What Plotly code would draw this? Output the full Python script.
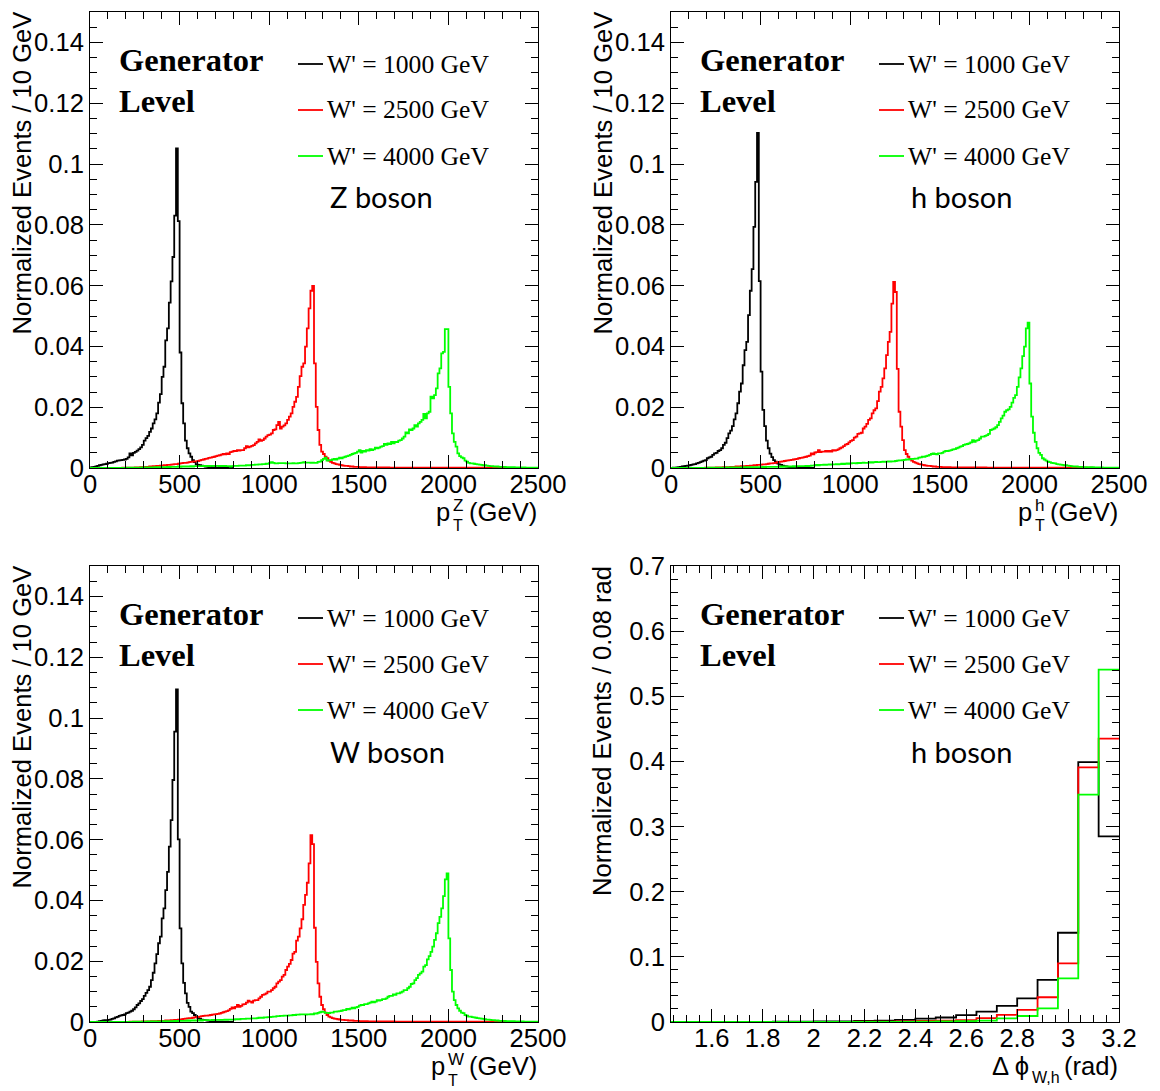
import numpy as np
import plotly.graph_objects as go

W, H = 1160, 1091


def px(x):
    return x / W


def py(y):
    return 1 - y / H


# ---------------------------------------------------------------------------
# Generator-level boson pT spectra, normalized events per 10 GeV bin,
# stored in units of 1e-4.  Each series starts at the given GeV value.
# ---------------------------------------------------------------------------
PT_BIN = 10.0
PT_UNIT = 1e-4
MASSES = ["W' = 1000 GeV", "W' = 2500 GeV", "W' = 4000 GeV"]
COLORS = ["#000000", "#ff0000", "#00ff00"]

# ---- Z boson ----
z_start = [0, 150, 0]
z_m1000 = [
    2, 3, 4, 5, 7, 9, 10, 12, 13, 14,
    16, 17, 18, 20, 22, 24, 25, 26, 27, 28,
    30, 35, 48, 42, 50, 53, 57, 62, 68, 76,
    90, 98, 106, 119, 130, 147, 160, 180, 215, 243,
    300, 333, 420, 459, 544, 614, 694, 830, 1051, 812,
    380, 213, 147, 90, 65, 48, 37, 26, 19, 12,
    10, 9, 8, 6, 5, 4, 3, 3, 2, 2,
    1, 1, 1, 1, 1, 0, 0, 0, 0, 0,
]
z_m2500 = [
    0, 0, 0, 1, 1, 1, 1, 1, 1, 1, 2, 2, 2, 3, 3,
    3, 4, 4, 5, 5, 6, 6, 7, 7, 8, 8, 9, 9, 10, 10,
    11, 12, 13, 13, 14, 15, 16, 17, 17, 18, 19, 20, 21, 22, 22,
    23, 25, 27, 28, 30, 31, 33, 34, 36, 37, 39, 41, 42, 44, 46, 45,
    48, 46, 52, 54, 56, 56, 59, 57, 59, 59,
    65, 72, 68, 70, 73, 75, 81, 86, 94, 89,
    92, 97, 103, 108, 110, 114, 125, 127, 141, 152,
    130, 136, 140, 147, 158, 169, 180, 201, 218, 234,
    267, 302, 333, 344, 399, 459, 525, 583, 599,
    344, 201, 125, 76, 54, 46, 37, 32, 24, 20,
    17, 15, 13, 12, 10, 9, 8, 7, 7, 6, 5, 5, 4, 4, 4,
    3, 3, 3, 3, 2, 2, 2, 2, 2, 2, 2, 2, 2, 2, 2, 1, 2, 1, 1, 1,
    1, 1, 1, 1, 1, 1, 1, 1, 1, 1, 1, 1, 1, 1, 1, 1, 1, 1, 1, 1,
    1, 1, 1, 1, 1, 1, 1, 1, 1, 1,
    1, 1, 1, 1, 1, 1, 1, 1, 1, 1, 1, 1, 1, 1, 1, 0, 1, 1, 1, 0,
    1, 0, 1, 0, 0, 1, 0, 0, 0, 0, 0, 0, 0, 0, 0, 0, 0, 0, 0, 0,
    0, 0, 0, 0, 0, 0, 0, 0, 0, 0,
]
z_m4000 = [
    0, 0, 0, 0, 0, 0, 0, 0, 0, 0, 0, 0, 0, 0, 0, 0, 0, 0, 0, 0,
    1, 1, 0, 1, 1, 1, 1, 1, 1, 2, 1, 2, 2, 2, 2, 2, 3, 2, 3, 3,
    3, 3, 3, 4, 3, 4, 4, 4, 4, 5, 4, 5, 5, 5, 5, 5, 6, 5, 6, 6,
    6, 6, 6, 7, 6, 7, 6, 7, 7, 6, 7, 7, 6, 7, 6, 7, 6, 6,
    5, 6, 7, 7, 7, 8, 8, 8, 8, 9, 9, 9, 10, 10, 11, 11, 12, 12, 13, 13,
    14, 14, 17, 19, 17, 15, 15, 16, 16, 16, 16, 15, 15, 15, 15, 16, 15, 15, 16, 17,
    18, 19, 18, 18, 18, 17, 18, 17,
    17, 20, 21, 26, 30, 34, 24, 26, 26, 28,
    30, 28, 31, 34, 32, 35, 37, 39, 41, 43,
    46, 48, 50, 54, 59, 51, 56, 54, 59, 57,
    62, 59, 61, 67, 65, 67, 70, 72, 79, 76,
    81, 79, 86, 81, 86, 85, 90, 92, 97, 103,
    117, 114, 127, 125, 130, 141, 136, 147, 152, 158,
    178, 163, 180, 185, 235, 229, 240, 262, 311, 328,
    377, 382, 457, 457,
    267, 180, 114, 86, 70, 48, 39, 35, 32, 24,
    21, 17, 15, 15, 14, 13, 12, 11, 10, 9,
    9, 8, 7, 6, 6, 5, 5, 5, 4, 4,
    4, 4, 3, 3, 3, 3, 3, 2, 2, 2,
    2, 2, 2, 1, 1, 1, 1, 1, 1, 1,
]

# ---- h boson ----
h_start = [0, 150, 0]
h_m1000 = [
    0, 1, 1, 2, 3, 4, 5, 6, 7, 8,
    9, 10, 12, 13, 15, 17, 19, 22, 24, 26,
    32, 35, 37, 43, 48, 50, 56, 59, 65, 76,
    83, 98, 114, 123, 138, 160, 180, 213, 251, 278,
    338, 388, 415, 503, 583, 654, 793, 941, 1102, 615,
    317, 191, 138, 90, 65, 47, 36, 26, 21, 15,
    12, 10, 8, 6, 5, 4, 3, 3, 2, 2,
    1, 1, 1, 1, 0, 0, 0, 0, 0, 0,
]
h_m2500 = [
    0, 0, 0, 0, 1, 1, 1, 1, 1, 1, 2, 2, 2, 2, 3,
    3, 3, 3, 4, 4, 4, 5, 5, 5, 6, 6, 6, 7, 7, 8,
    8, 9, 9, 10, 10, 11, 12, 12, 13, 14, 15, 15, 16, 17, 19,
    20, 21, 22, 23, 24, 25, 26, 27, 28, 29, 30, 32, 33, 34, 36, 37, 39, 41,
    48, 45, 51, 52, 59, 52, 54, 54, 56, 54,
    56, 54, 59, 57, 59, 61, 65, 68, 72, 77,
    79, 84, 89, 92, 100, 103, 112, 114, 116, 130,
    136, 145, 158, 163, 180, 190, 196, 220, 251, 267,
    295, 328, 371, 415, 448, 541, 612,
    579, 326, 185, 136, 92, 59, 46, 37, 30, 24,
    20, 18, 15, 13, 12, 10, 9, 8, 7, 7, 6, 5, 5, 4, 4,
    4, 3, 3, 3, 3, 3, 2, 2, 2, 2, 2, 2, 2, 2, 2, 2, 2, 2, 2, 2,
    2, 2, 2, 2, 1, 2, 1, 1, 1, 1, 1, 1, 1, 1, 1, 1, 1, 1, 1, 1,
    1, 1, 1, 1, 1, 1, 1, 1, 1, 1,
    1, 1, 1, 1, 1, 1, 1, 1, 1, 1, 1, 1, 1, 1, 1, 1, 1, 1, 1, 1,
    1, 1, 1, 1, 1, 1, 1, 1, 1, 1, 0, 1, 0, 0, 1, 0, 0, 0, 0, 0,
    0, 0, 0, 0, 0, 0, 0, 0, 0, 0,
]
h_m4000 = [
    0, 0, 0, 0, 0, 0, 0, 0, 0, 0, 0, 0, 0, 0, 0, 0, 0, 0, 0, 0,
    1, 1, 1, 1, 1, 1, 1, 1, 1, 1, 1, 2, 1, 2, 2, 2, 2, 2, 2, 2,
    3, 2, 3, 3, 3, 3, 3, 3, 3, 3, 3, 4, 3, 4, 4, 4, 4, 4, 4, 4,
    4, 5, 4, 5, 5, 5, 5, 5, 6, 5, 6, 6, 6, 6, 6, 7, 6, 7,
    8, 8, 9, 10, 9, 10, 10, 11, 10, 11, 12, 11, 12, 12, 13, 12, 13, 14, 13, 14,
    15, 14, 15, 16, 16, 15, 17, 16, 17, 18, 17, 17, 18, 19, 18, 19, 20, 19, 19, 20,
    21, 20, 21, 22, 21, 22, 22,
    23, 24, 25, 25, 26, 27, 28, 28, 29, 30,
    30, 31, 31, 34, 35, 37, 37, 39, 41, 43,
    46, 48, 46, 45, 48, 48, 50, 54, 56, 56,
    57, 59, 61, 62, 65, 67, 70, 72, 76, 78,
    79, 81, 84, 92, 86, 90, 92, 97, 103, 103,
    106, 108, 112, 125, 127, 130, 134, 141, 152, 163,
    172, 185, 190, 193, 201, 215, 231, 240, 267, 298,
    328, 368, 399, 459, 478,
    278, 169, 116, 86, 65, 50, 43, 32, 28, 24,
    21, 19, 17, 16, 15, 13, 12, 11, 10, 9,
    9, 8, 7, 6, 5, 5, 5, 4, 4, 4,
    3, 3, 3, 3, 3, 3, 2, 2, 2, 2,
    2, 1, 1, 1, 1, 1, 1, 1, 1, 1,
]

# ---- W boson ----
w_start = [0, 150, 0]
w_m1000 = [
    0, 0, 0, 0, 1, 3, 4, 5, 6, 6,
    7, 8, 10, 12, 15, 17, 20, 22, 23, 25,
    29, 31, 34, 37, 42, 48, 56, 61, 69, 75,
    86, 96, 105, 116, 138, 162, 193, 223, 259, 281,
    341, 374, 434, 494, 577, 664, 796, 955, 1094, 601,
    308, 193, 129, 94, 63, 50, 34, 29, 23, 17,
    13, 10, 8, 7, 6, 5, 4, 3, 2, 2,
    1, 1, 1, 1, 0, 0, 0, 0, 0, 0,
]
w_m2500 = [
    0, 0, 0, 0, 0, 0, 0, 1, 1, 1, 1, 1, 1, 1, 2,
    2, 2, 2, 2, 3, 3, 3, 3, 4, 4, 4, 4, 5, 5, 5,
    6, 6, 7, 7, 8, 8, 9, 10, 11, 12, 13, 13, 14, 15, 16,
    17, 18, 19, 20, 21, 21, 22, 23, 24, 25, 26, 27, 28, 30, 32, 34, 36, 38,
    43, 48, 45, 50, 56, 50, 53, 58, 59, 64,
    70, 67, 64, 70, 72, 72, 78, 83, 89, 91,
    94, 100, 100, 105, 111, 116, 127, 133, 138, 149,
    155, 171, 182, 191, 204, 225, 231, 268, 281, 308,
    338, 385, 418, 458, 522, 615, 585,
    310, 198, 127, 83, 56, 42, 31, 23, 18, 15,
    13, 11, 10, 9, 8, 7, 7, 6, 6, 5, 5, 5, 4, 4, 4,
    3, 3, 3, 3, 3, 2, 2, 2, 2, 2, 2, 2, 2, 2, 2, 2, 2, 2, 2, 2,
    1, 1, 1, 1, 1, 1, 1, 1, 1, 1, 1, 1, 1, 1, 1, 1, 1, 1, 1, 1,
    1, 1, 1, 1, 1, 1, 1, 1, 1, 1,
    1, 1, 1, 1, 1, 1, 1, 1, 1, 1, 1, 1, 1, 1, 1, 1, 1, 1, 1, 1,
    1, 1, 1, 1, 1, 1, 1, 1, 1, 1, 0, 0, 0, 0, 0, 0, 0, 0, 0, 0,
    0, 0, 0, 0, 0, 0, 0, 0, 0, 0,
]
w_m4000 = [
    0, 0, 0, 0, 0, 0, 0, 0, 0, 0, 0, 0, 0, 0, 0, 0, 0, 0, 0, 0,
    0, 0, 0, 0, 1, 1, 1, 1, 1, 1, 1, 1, 2, 1, 2, 2, 2, 2, 2, 2,
    3, 2, 3, 3, 3, 3, 3, 4, 3, 4, 4, 4, 4, 4, 5, 4, 5, 5, 5, 5,
    5, 6, 5, 6, 6, 6, 6, 6, 7, 6, 7, 7, 7, 7, 7, 8, 7, 8,
    8, 8, 8, 9, 9, 9, 10, 10, 10, 11, 11, 11, 12, 12, 12, 13, 14, 14, 14, 15,
    15, 16, 16, 17, 18, 18, 19, 19, 20, 20, 21, 21, 21, 22, 22, 23, 23, 24, 24, 25,
    25, 25, 24, 25, 25, 26, 25, 28, 28,
    30, 32, 34, 33, 30, 30, 29, 31, 31, 34,
    34, 35, 36, 37, 39, 39, 43, 42, 44, 47,
    45, 48, 50, 54, 56, 56, 59, 59, 61, 64,
    67, 65, 67, 72, 70, 72, 75, 75, 78, 83,
    86, 86, 91, 89, 94, 94, 97, 100, 105, 105,
    111, 116, 125, 127, 138, 144, 155, 160, 166, 182,
    187, 206, 217, 231, 248, 270, 292, 325, 346, 374,
    414, 469, 489,
    275, 171, 100, 72, 56, 45, 37, 31, 29, 23,
    21, 18, 18, 16, 15, 14, 13, 12, 11, 10,
    9, 8, 8, 7, 6, 6, 5, 5, 4, 4,
    4, 4, 3, 3, 3, 3, 3, 2, 2, 2,
    2, 2, 1, 1, 1, 1, 1, 1, 1, 1,
]

# ---------------------------------------------------------------------------
# Delta phi(W, h), normalized events per 0.08 rad, first bin at 1.44 rad
# ---------------------------------------------------------------------------
DPHI_START = 1.44
DPHI_BIN = 0.08
dphi_m1000 = [0.0001, 0.0001, 0.0001, 0.0002, 0.0003, 0.0004, 0.0005, 0.0008,
              0.0010, 0.0015, 0.0020, 0.0032, 0.0053, 0.0069, 0.0106, 0.0160,
              0.0246, 0.0364, 0.0646, 0.1370, 0.3990, 0.2850]
dphi_m2500 = [0.0, 0.0, 0.0001, 0.0001, 0.0001, 0.0001, 0.0002, 0.0002,
              0.0003, 0.0005, 0.0007, 0.0010, 0.0015, 0.0020, 0.0030, 0.0060,
              0.0108, 0.0185, 0.0380, 0.0900, 0.3910, 0.4350]
dphi_m4000 = [0.0, 0.0, 0.0, 0.0, 0.0, 0.0, 0.0001, 0.0001,
              0.0001, 0.0001, 0.0002, 0.0003, 0.0005, 0.0008, 0.0012, 0.0020,
              0.0056, 0.0092, 0.0210, 0.0670, 0.3490, 0.5410]

# ---------------------------------------------------------------------------
PT_TICKS = dict(range=[0, 2500], tick0=0, dtick=500, minor_dtick=100)
PT_Y = dict(range=[0, 0.15], tick0=0, dtick=0.02, minor_dtick=0.005)
DPHI_X = dict(range=[1.44, 3.2], tick0=0, dtick=0.2, minor_dtick=0.05)
DPHI_Y = dict(range=[0, 0.7], tick0=0, dtick=0.1, minor_dtick=0.02)

# frame pixel boxes: (left, right, top, bottom)
FRAMES = [(90, 538, 12, 468), (671, 1119, 12, 468),
          (90, 538, 566, 1022), (671, 1119, 566, 1022)]

# x-axis title pieces: main symbol, superscript, subscript, unit, and the
# pixel offset of the symbol's right edge from the frame's right edge
panels = [
    dict(series=[z_m1000, z_m2500, z_m4000], start=z_start, boson="Z boson",
         xlab=("p", "Z", "T", "(GeV)", 87)),
    dict(series=[h_m1000, h_m2500, h_m4000], start=h_start, boson="h boson",
         xlab=("p", "h", "T", "(GeV)", 86)),
    dict(series=[w_m1000, w_m2500, w_m4000], start=w_start, boson="W boson",
         xlab=("p", "W", "T", "(GeV)", 92)),
    dict(series=[dphi_m1000, dphi_m2500, dphi_m4000], start=None,
         boson="h boson", xlab=None),
]

SANS = "Liberation Sans"
SERIF = "Liberation Serif"
FS = 25.6
LW = 1.8

fig = go.Figure()
layout = dict(width=W, height=H,
              margin=dict(l=0, r=0, t=0, b=0, pad=0, autoexpand=False),
              paper_bgcolor="white", plot_bgcolor="white", showlegend=False,
              annotations=[], shapes=[])


def axis(domain, anchor, spec, is_x, fmt=None):
    a = dict(domain=domain, anchor=anchor, range=spec["range"],
             tick0=spec["tick0"], dtick=spec["dtick"], showline=True,
             linecolor="black", linewidth=1, mirror="allticks", ticks="inside",
             ticklen=13, tickwidth=1, tickcolor="black", showgrid=False,
             zeroline=False, fixedrange=True,
             ticklabelstandoff=-7 if is_x else 0,
             tickfont=dict(family=SANS, size=FS, color="black"),
             minor=dict(ticks="inside", ticklen=7, tickwidth=1,
                        tickcolor="black", dtick=spec["minor_dtick"],
                        tick0=spec["tick0"], showgrid=False))
    if fmt:
        a["tickformat"] = fmt
    return a


def note(x, y, s, size=FS, family=SANS, xanchor="left", yanchor="middle",
         angle=0):
    layout["annotations"].append(dict(
        x=px(x), y=py(y), xref="paper", yref="paper", text=s, showarrow=False,
        xanchor=xanchor, yanchor=yanchor, textangle=angle, borderpad=0,
        font=dict(family=family, size=size, color="black")))


for i, (panel, frame) in enumerate(zip(panels, FRAMES)):
    left, right, top, bottom = frame
    n = "" if i == 0 else str(i + 1)
    xa, ya = "x" + n, "y" + n
    xdom = [px(left), px(right)]
    ydom = [py(bottom), py(top)]
    is_dphi = panel["start"] is None
    layout["xaxis" + n] = axis(xdom, ya, DPHI_X if is_dphi else PT_TICKS,
                               True, None if is_dphi else "d")
    layout["yaxis" + n] = axis(ydom, xa, DPHI_Y if is_dphi else PT_Y, False)

    for k, (vals, color) in enumerate(zip(panel["series"], COLORS)):
        if is_dphi:
            v = np.asarray(vals, dtype=float)
            edges = DPHI_START + DPHI_BIN * np.arange(len(v) + 1)
        else:
            v = np.asarray(vals, dtype=float) * PT_UNIT
            edges = panel["start"][k] + PT_BIN * np.arange(len(v) + 1)
        fig.add_trace(go.Scatter(
            x=edges, y=np.append(v, v[-1]), mode="lines",
            line=dict(color=color, width=LW, shape="hv"),
            xaxis=xa, yaxis=ya, hoverinfo="skip", showlegend=False))

    # header texts
    dy = top - 12
    note(left + 28, 60 + dy, "<b>Generator</b>", size=32.5, family=SERIF)
    note(left + 28, 101 + dy, "<b>Level</b>", size=32.5, family=SERIF)
    for k, (label, color) in enumerate(zip(MASSES, COLORS)):
        yy = 64 + dy + 46 * k
        layout["shapes"].append(dict(
            type="line", xref="paper", yref="paper",
            x0=px(left + 208), x1=px(left + 233), y0=py(yy), y1=py(yy),
            line=dict(color=color, width=LW)))
        note(left + 236, yy, label, size=FS, family=SERIF)
    note(left + 239, 197 + dy, panel["boson"], size=29, family="Lato")

    # y-axis title
    ytitle = ("Normalized Events / 0.08 rad" if is_dphi
              else "Normalized Events / 10 GeV")
    note(left - 69, top - 1, ytitle, yanchor="top", xanchor="center",
         angle=-90)

    # x-axis title
    yb = bottom + 44
    if is_dphi:
        note(right, yb, "(rad)", xanchor="right")
        note(right - 89, yb, "\u0394 \u03d5", xanchor="right")
        note(right - 88, yb + 11, "W,h", size=16)
    else:
        main, sup, sub, unit, off = panel["xlab"]
        note(right, yb, unit, xanchor="right")
        note(right - off, yb, main, xanchor="right")
        note(right - off + 1, yb - 7, sup, size=17)
        note(right - off + 1, yb + 14, sub, size=16)

fig.update_layout(**layout)
fig.write_html("out.html")
